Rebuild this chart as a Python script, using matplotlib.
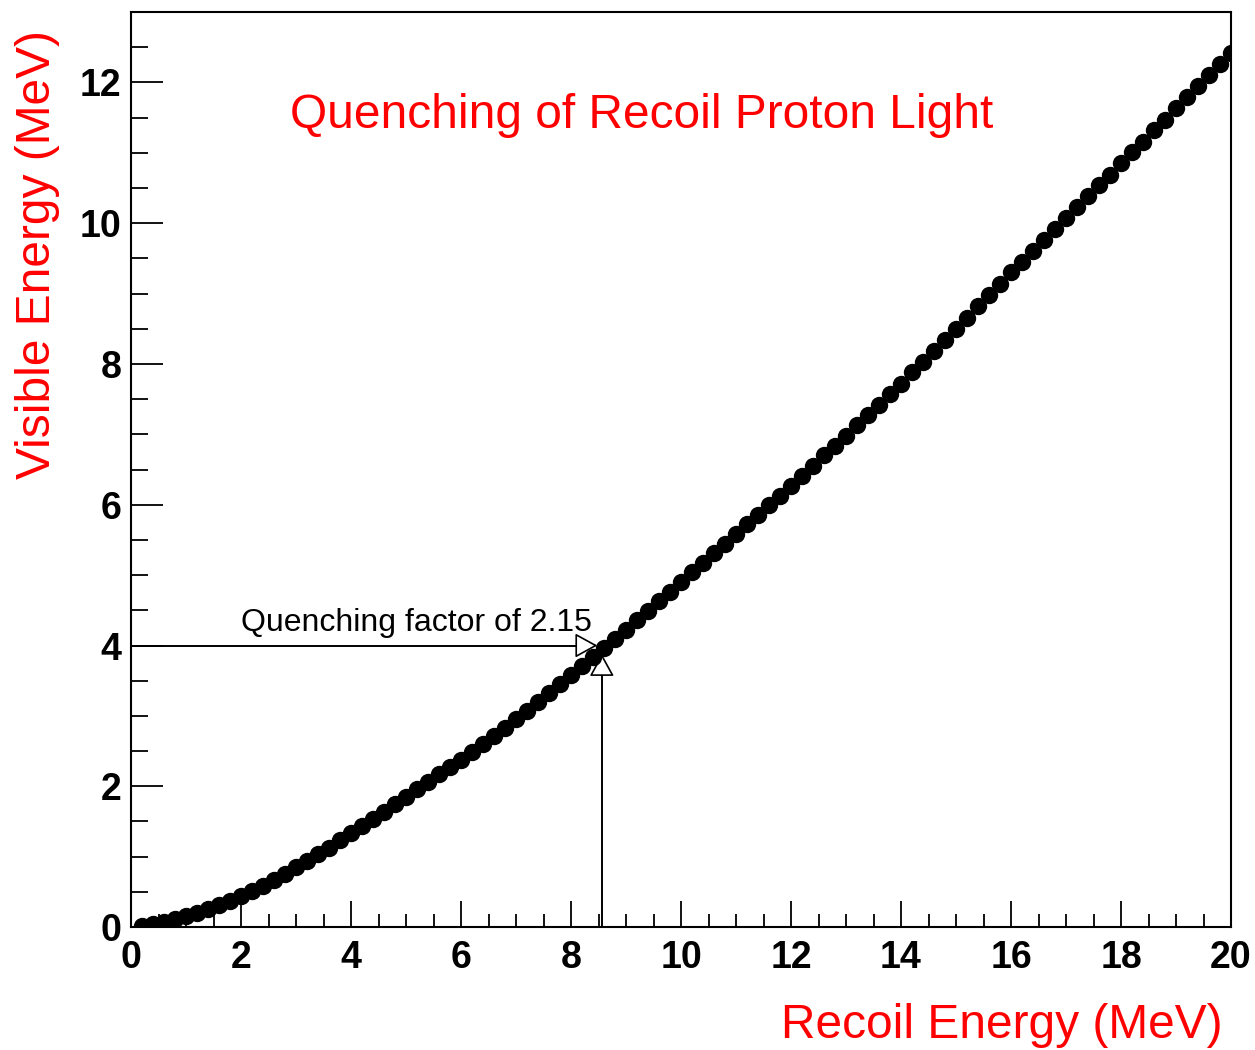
import matplotlib
matplotlib.use("Agg")
import matplotlib.pyplot as plt
from matplotlib.ticker import MultipleLocator
from matplotlib.patches import FancyArrowPatch

# recoil proton energy (MeV), one point every 0.2 MeV
recoil = [round(0.2 * (i + 1), 1) for i in range(100)]
# visible energy (MeV)
visible = [0.01, 0.04, 0.07, 0.11, 0.15, 0.20, 0.25, 0.31, 0.37, 0.44,
           0.51, 0.59, 0.67, 0.76, 0.85, 0.94, 1.04, 1.13, 1.23, 1.33,
           1.43, 1.54, 1.64, 1.75, 1.85, 1.96, 2.06, 2.17, 2.27, 2.38,
           2.49, 2.60, 2.72, 2.83, 2.95, 3.07, 3.20, 3.32, 3.45, 3.58,
           3.71, 3.83, 3.96, 4.09, 4.22, 4.36, 4.49, 4.63, 4.76, 4.90,
           5.04, 5.17, 5.31, 5.44, 5.58, 5.72, 5.86, 5.99, 6.13, 6.27,
           6.41, 6.55, 6.70, 6.84, 6.98, 7.13, 7.28, 7.42, 7.57, 7.72,
           7.88, 8.03, 8.19, 8.34, 8.50, 8.66, 8.82, 8.98, 9.14, 9.30,
           9.45, 9.61, 9.76, 9.92, 10.07, 10.23, 10.38, 10.54, 10.69, 10.85,
           11.01, 11.16, 11.32, 11.47, 11.63, 11.79, 11.95, 12.10, 12.26, 12.42]

# quenching marker: 8.6 MeV recoil -> 4 MeV visible (factor 2.15)
q_recoil = 8.56
q_visible = 4.0

red = "#ff0000"
tickfont = ["Liberation Sans", "DejaVu Sans"]
textfont = ["Liberation Sans", "DejaVu Sans"]

fig = plt.figure(figsize=(12.55, 10.5), dpi=100)
ax = fig.add_axes([0.1044, 0.1171, 0.8765, 0.8714])

# arrows first so the markers sit on top of the heads
ax.plot([0, q_recoil - 0.25], [q_visible, q_visible], color="black", lw=1.4, zorder=2)
ax.plot([q_recoil, q_recoil], [0, q_visible - 0.3], color="black", lw=1.4, zorder=2)
ah = FancyArrowPatch((q_recoil - 0.3, q_visible), (q_recoil - 0.03, q_visible),
                     arrowstyle="-|>,head_length=1.0,head_width=0.55",
                     mutation_scale=14, fc="white", ec="black", lw=1.2, zorder=2)
ax.add_patch(ah)
av = FancyArrowPatch((q_recoil, q_visible - 0.35), (q_recoil, q_visible - 0.08),
                     arrowstyle="-|>,head_length=1.0,head_width=0.55",
                     mutation_scale=14, fc="white", ec="black", lw=1.2, zorder=2)
ax.add_patch(av)

ax.plot(recoil, visible, "o", color="black", markersize=11.5, zorder=3)

ax.text(2.0, 4.2, "Quenching factor of 2.15", fontsize=23, family=textfont,
        color="black", ha="left", va="baseline")

ax.set_xlim(0, 20)
ax.set_ylim(0, 13)
ax.xaxis.set_major_locator(MultipleLocator(2))
ax.xaxis.set_minor_locator(MultipleLocator(0.5))
ax.yaxis.set_major_locator(MultipleLocator(2))
ax.yaxis.set_minor_locator(MultipleLocator(0.5))
ax.tick_params(axis="x", which="major", direction="in", length=19, width=1.3, pad=9)
ax.tick_params(axis="x", which="minor", direction="in", length=9.5, width=1.3)
ax.tick_params(axis="y", which="major", direction="in", length=23, width=1.3, pad=7)
ax.tick_params(axis="y", which="minor", direction="in", length=12, width=1.3)
for lab in ax.get_xticklabels() + ax.get_yticklabels():
    lab.set_family(tickfont)
    lab.set_fontsize(27)
    lab.set_fontweight("bold")
for s in ax.spines.values():
    s.set_linewidth(1.5)

fig.text(290 / 1255, 0.878, "Quenching of Recoil Proton Light", fontsize=34.5,
         family=textfont, color=red, ha="left", va="baseline")
fig.text(0.974, 0.002, "Recoil Energy (MeV)", fontsize=34.5, family=textfont,
         color=red, ha="right", va="bottom")
fig.text(0.012, 0.971, "Visible Energy (MeV)", fontsize=34.5, family=textfont,
         color=red, ha="left", va="top", rotation=90)

fig.savefig("out.png", dpi=100)
